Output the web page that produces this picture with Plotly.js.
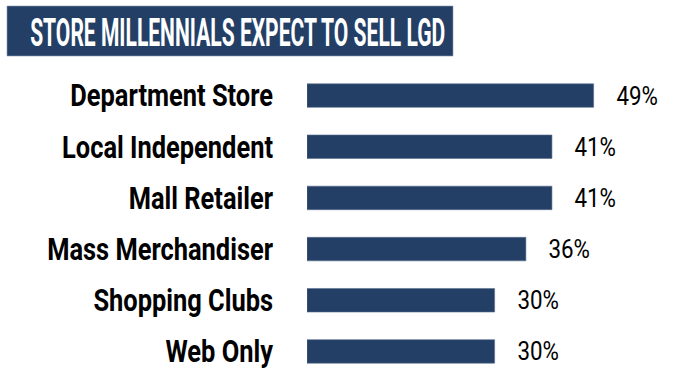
<!DOCTYPE html>
<html>
<head>
<meta charset="utf-8">
<script src="https://cdn.plot.ly/plotly-3.0.1.min.js"></script>
<style>html,body{margin:0;padding:0;background:#fff;}#chart{width:678px;height:383px;}</style>
</head>
<body>
<div id="chart"></div>
<script>
const chartTitle = "STORE MILLENNIALS EXPECT TO SELL LGD";
const categories = ["Department Store", "Local Independent", "Mall Retailer", "Mass Merchandiser", "Shopping Clubs", "Web Only"];
const values = [49, 41, 41, 36, 30, 30];
const valueLabels = values.map(v => v + "%");

const navy = "#243F66";
const W = 678, H = 383;
const mL = 307, mR = 51, mT = 70, mB = 6;
const xMin = -6, xMax = 55.4;   // axis origin of the bars in the reference sits left of zero
const plotW = W - mL - mR, plotH = H - mT - mB;
const px = v => (v - mL) / plotW;           // container px -> paper x
const py = v => (H - mB - v) / plotH;       // container px -> paper y

const trace = {
  type: "bar",
  orientation: "h",
  x: values.map(v => v - xMin),
  base: xMin,
  y: categories,
  marker: {color: navy, line: {color: "#5a6f8f", width: 0.6}},
  hoverinfo: "none"
};

const annotations = values.map((v, i) => ({
  x: v, y: categories[i], xref: "x", yref: "y",
  text: valueLabels[i], showarrow: false,
  xanchor: "left", yanchor: "middle", xshift: 17,
  font: {family: "Roboto, sans-serif", size: 26, color: "#000", weight: 400}
}));
annotations.push({
  x: px(237.5), y: py(33), xref: "paper", yref: "paper",
  text: chartTitle, showarrow: false, xanchor: "center", yanchor: "middle",
  font: {family: "Roboto, sans-serif", size: 38, color: "#fff", weight: "bold"}
});

const layout = {
  width: W, height: H,
  margin: {l: mL, r: mR, t: mT, b: mB},
  paper_bgcolor: "#fff", plot_bgcolor: "#fff",
  showlegend: false,
  bargap: 0.54,
  xaxis: {range: [xMin, xMax], visible: false, fixedrange: true},
  yaxis: {
    type: "category", range: [5.5, -0.5], showgrid: false, zeroline: false,
    showline: false, ticks: "", ticklabelstandoff: 33,
    tickfont: {family: "Roboto, sans-serif", size: 31, color: "#000", weight: "bold"},
    fixedrange: true
  },
  shapes: [{
    type: "rect", xref: "paper", yref: "paper",
    x0: px(7), x1: px(453), y0: py(56), y1: py(6),
    fillcolor: navy, line: {color: "#8a9ab3", width: 0.6}, layer: "below"
  }],
  annotations: annotations
};

// condense glyphs horizontally (the reference uses a very narrow typeface)
function condense(el, f) {
  const w = el.getComputedTextLength();
  el.setAttribute("textLength", (w * f).toFixed(1));
  el.setAttribute("lengthAdjust", "spacingAndGlyphs");
}

Plotly.newPlot("chart", [trace], layout, {displayModeBar: false, staticPlot: true}).then(() => {
  document.querySelectorAll(".ytick text").forEach(el => condense(el, 0.82));
  document.querySelectorAll(".annotation-text").forEach(el => {
    if (el.textContent === chartTitle) {
      const w = el.getComputedTextLength();
      condense(el, 415 / w);
    } else {
      condense(el, 0.86);
    }
  });
});
</script>
</body>
</html>
